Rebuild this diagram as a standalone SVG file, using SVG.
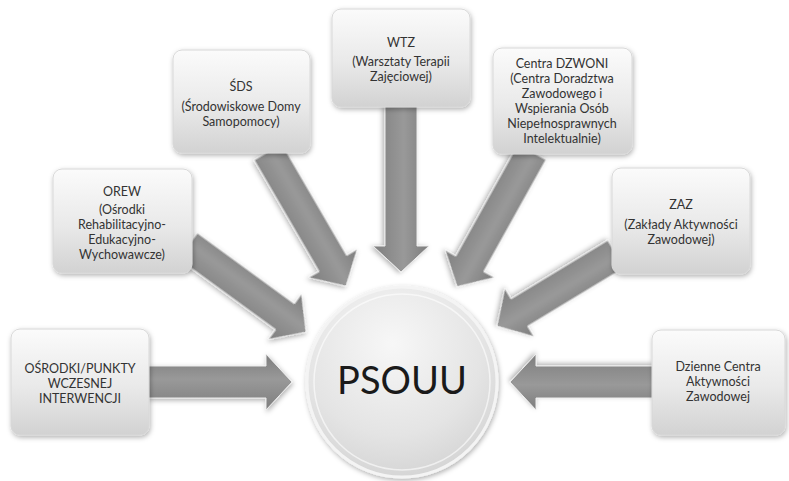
<svg xmlns="http://www.w3.org/2000/svg" width="789" height="481" viewBox="0 0 789 481">
<defs>
  <linearGradient id="boxFill" x1="0" y1="0" x2="0" y2="1">
    <stop offset="0" stop-color="#fbfbfb"/>
    <stop offset="0.55" stop-color="#e9e9e9"/>
    <stop offset="1" stop-color="#d2d2d2"/>
  </linearGradient>
  <linearGradient id="arrowFill" gradientUnits="userSpaceOnUse" x1="0" y1="-28" x2="0" y2="28">
    <stop offset="0" stop-color="#7c7c7c"/>
    <stop offset="0.45" stop-color="#999999"/>
    <stop offset="1" stop-color="#7e7e7e"/>
  </linearGradient>
  <radialGradient id="circleFill" cx="0.45" cy="0.3" r="0.8">
    <stop offset="0" stop-color="#f7f7f7"/>
    <stop offset="0.6" stop-color="#e4e4e4"/>
    <stop offset="1" stop-color="#cfcfcf"/>
  </radialGradient>
  <filter id="shadow" x="-20%" y="-20%" width="140%" height="140%">
    <feDropShadow dx="1" dy="2" stdDeviation="2.5" flood-color="#000" flood-opacity="0.3"/>
  </filter>
  <style>
    .box { fill: url(#boxFill); stroke: #d8d8d8; stroke-width: 1; filter: url(#shadow); }
    .arrow { fill: url(#arrowFill); stroke: #ececec; stroke-width: 1; stroke-linejoin: miter; filter: url(#shadow); }
    .lbl { font-family: Lato, "Liberation Sans", sans-serif; font-size: 12.5px; fill: #333; text-anchor: middle; }
    .big { font-family: Lato, "Liberation Sans", sans-serif; font-size: 38px; fill: #1a1a1a; text-anchor: middle; }
  </style>
</defs>
<rect width="789" height="481" fill="#ffffff"/>

<g id="connectors">
  <polygon class="arrow" transform="translate(148,382)" points="0,-16 118,-16 118,-28 144,0 118,28 118,16 0,16"/>
  <polygon class="arrow" transform="translate(654,382) rotate(180)" points="0,-16 118,-16 118,-28 144,0 118,28 118,16 0,16"/>
  <polygon class="arrow" transform="translate(401,106) rotate(90)" points="0,-16 140,-16 140,-28 166,0 140,28 140,16 0,16"/>
  <polygon class="arrow" transform="translate(268,152) rotate(59.8)" points="0,-16 129,-16 129,-28 155,0 129,28 129,16 0,16"/>
  <polygon class="arrow" transform="translate(188,246) rotate(36.1)" points="0,-16 120,-16 120,-28 146,0 120,28 120,16 0,16"/>
  <polygon class="arrow" transform="translate(532,152) rotate(119.1)" points="0,-16 128,-16 128,-28 154,0 128,28 128,16 0,16"/>
  <polygon class="arrow" transform="translate(616,254) rotate(148.8)" points="0,-16 113,-16 113,-28 139,0 113,28 113,16 0,16"/>
</g>

<g id="node-osrodki">
  <rect class="box" x="11" y="329" width="138" height="106" rx="9"/>
  <text class="lbl" x="80" y="373">OŚRODKI/PUNKTY</text>
  <text class="lbl" x="80" y="388">WCZESNEJ</text>
  <text class="lbl" x="80" y="403">INTERWENCJI</text>
</g>

<g id="node-orew">
  <rect class="box" x="53" y="169" width="139" height="104" rx="9"/>
  <text class="lbl" x="122" y="196">OREW</text>
  <text class="lbl" x="122" y="214">(Ośrodki</text>
  <text class="lbl" x="122" y="229">Rehabilitacyjno-</text>
  <text class="lbl" x="122" y="244">Edukacyjno-</text>
  <text class="lbl" x="122" y="259">Wychowawcze)</text>
</g>

<g id="node-sds">
  <rect class="box" x="173" y="50" width="137" height="103" rx="9"/>
  <text class="lbl" x="241" y="91">ŚDS</text>
  <text class="lbl" x="241" y="111">(Środowiskowe  Domy</text>
  <text class="lbl" x="241" y="126">Samopomocy)</text>
</g>

<g id="node-wtz">
  <rect class="box" x="332" y="9" width="138" height="98" rx="9"/>
  <text class="lbl" x="401" y="47">WTZ</text>
  <text class="lbl" x="401" y="66">(Warsztaty Terapii</text>
  <text class="lbl" x="401" y="81">Zajęciowej)</text>
</g>

<g id="node-dzwoni">
  <rect class="box" x="493" y="48" width="139" height="106" rx="9"/>
  <text class="lbl" x="562" y="68">Centra DZWONI</text>
  <text class="lbl" x="562" y="83">(Centra Doradztwa</text>
  <text class="lbl" x="562" y="98">Zawodowego i</text>
  <text class="lbl" x="562" y="113">Wspierania Osób</text>
  <text class="lbl" x="562" y="128">Niepełnosprawnych</text>
  <text class="lbl" x="562" y="143">Intelektualnie)</text>
</g>

<g id="node-zaz">
  <rect class="box" x="612" y="168" width="138" height="106" rx="9"/>
  <text class="lbl" x="681" y="209">ZAZ</text>
  <text class="lbl" x="681" y="229">(Zakłady Aktywności</text>
  <text class="lbl" x="681" y="244">Zawodowej)</text>
</g>

<g id="node-dzienne">
  <rect class="box" x="652" y="330" width="133" height="105" rx="9"/>
  <text class="lbl" x="718" y="371">Dzienne Centra</text>
  <text class="lbl" x="718" y="386">Aktywności</text>
  <text class="lbl" x="718" y="401">Zawodowej</text>
</g>

<g id="node-psouu">
  <circle cx="402" cy="382" r="95" fill="url(#circleFill)" stroke="#f4f4f4" stroke-width="3" filter="url(#shadow)"/>
  <circle cx="402" cy="382" r="88" fill="none" stroke="#ffffff" stroke-width="1.5" opacity="0.6"/>
  <text class="big" x="402" y="394">PSOUU</text>
</g>
</svg>
